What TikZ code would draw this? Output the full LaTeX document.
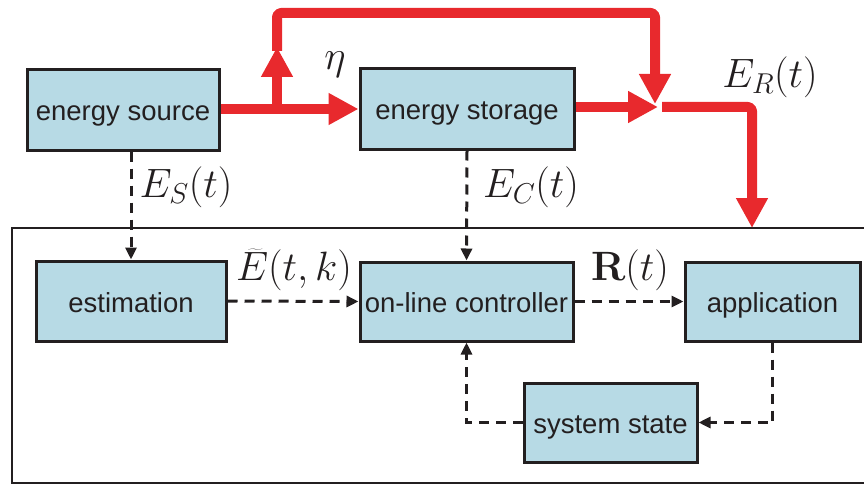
\RequirePackage{fix-cm}
\documentclass[tikz,border=0pt]{standalone}
\usepackage[no-math]{fontspec}
\setmainfont{Liberation Sans}
\usetikzlibrary{arrows.meta}
\definecolor{boxfill}{RGB}{183,218,229}
\definecolor{ink}{RGB}{35,31,32}
\definecolor{power}{RGB}{232,41,45}
\tikzset{
  block/.style={draw=ink, line width=3pt, fill=boxfill, inner sep=0pt,
    text=ink, font=\fontsize{27.5}{29}\selectfont, text height=25pt, text depth=3pt},
  powerline/.style={draw=power, line width=10pt, line join=round,
    -{Triangle[length=30pt,width=30pt]}},
  infoline/.style={draw=ink, line width=3pt, dash pattern=on 10pt off 7pt,
    -{Triangle[length=12pt,width=11pt]}},
  lbl/.style={inner sep=0pt, font=\fontsize{41}{43}\selectfont, text=ink}
}
\begin{document}
\begin{tikzpicture}[x=1pt,y=-1pt]
\useasboundingbox (0,0) rectangle (864,484);

% system boundary (open on the right)
\draw[draw=ink, line width=2pt] (880,228) -- (12,228) -- (12,483) -- (880,483);

% blocks
\node[block, minimum width=192pt, minimum height=80pt] (source) at (123,110) {energy source};
\node[block, minimum width=214pt, minimum height=80pt] (storage) at (467,109) {energy storage};
\node[block, minimum width=190pt, minimum height=80pt] (estim) at (131,301) {estimation};
\node[block, minimum width=213pt, minimum height=79pt] (ctrl) at (466.5,301.5) {on-line controller};
\node[block, minimum width=175pt, minimum height=79pt] (app) at (772.5,301.5) {application};
\node[block, minimum width=173pt, minimum height=79pt] (state) at (610.5,422.5) {system state};

% routing points of the energy flow
\coordinate (split) at (277,109);
\coordinate (up) at (277,47);
\coordinate (junction) at (658,107);
\coordinate (sink) at (752,228);

% energy flow
\draw[powerline] (source.east |- split) -- (storage.west);
\draw[powerline] (split) -- (up);
\draw[powerline, rounded corners=4pt] ([yshift=-4pt]up) -- (277,13) -- (655,13) -- (655,104);
\draw[powerline] (storage.east |- junction) -- (junction);
\draw[powerline, rounded corners=4pt] ([xshift=4pt]junction) -- (752,107) -- (sink);

% information flow
\draw[infoline] (source.south -| estim.north) -- (estim.north);
\draw[infoline] (storage.south) -- (ctrl.north);
\draw[infoline] (estim.east) -- (ctrl.west);
\draw[infoline] (ctrl.east) -- (app.west);
\draw[infoline] (app.south) |- (state.east);
\draw[infoline] (state.west) -| (ctrl.south);

% labels
\node[lbl] (eta) at (335,65) {$\eta$};
\node[lbl] (er) at (770,77) {$E_R(t)$};
\node[lbl] (es) at (186,187) {$E_S(t)$};
\node[lbl] (ec) at (531,187) {$E_C(t)$};
\node[lbl] (ehat) at (294,270) {$\widetilde{E}(t,k)$};
\node[lbl] (rt) at (630,270) {$\mathbf{R}(t)$};
\end{tikzpicture}
\end{document}
